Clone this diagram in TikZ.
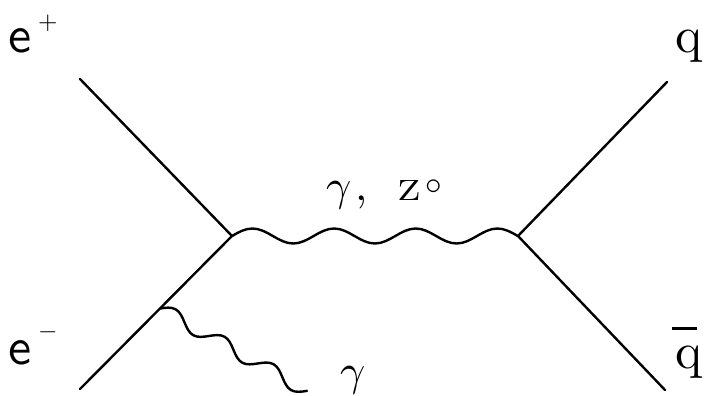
\documentclass[tikz,border=0pt]{standalone}
\usepackage{fix-cm}
\usetikzlibrary{decorations,calc}
\pgfdeclaredecoration{halfwave}{up}{
  \state{up}[width=\pgfdecorationsegmentlength, next state=down]{
    \pgfpathlineto{\pgfpointorigin}
    \pgfpathcurveto{\pgfpoint{0.16307\pgfdecorationsegmentlength}{0.51229\pgfdecorationsegmentamplitude}}{\pgfpoint{0.31904\pgfdecorationsegmentlength}{\pgfdecorationsegmentamplitude}}{\pgfpoint{0.5\pgfdecorationsegmentlength}{\pgfdecorationsegmentamplitude}}
    \pgfpathcurveto{\pgfpoint{0.68096\pgfdecorationsegmentlength}{\pgfdecorationsegmentamplitude}}{\pgfpoint{0.83693\pgfdecorationsegmentlength}{0.51229\pgfdecorationsegmentamplitude}}{\pgfpoint{\pgfdecorationsegmentlength}{0pt}}
  }
  \state{down}[width=\pgfdecorationsegmentlength, next state=up]{
    \pgfpathlineto{\pgfpointorigin}
    \pgfpathcurveto{\pgfpoint{0.16307\pgfdecorationsegmentlength}{-0.51229\pgfdecorationsegmentamplitude}}{\pgfpoint{0.31904\pgfdecorationsegmentlength}{-\pgfdecorationsegmentamplitude}}{\pgfpoint{0.5\pgfdecorationsegmentlength}{-\pgfdecorationsegmentamplitude}}
    \pgfpathcurveto{\pgfpoint{0.68096\pgfdecorationsegmentlength}{-\pgfdecorationsegmentamplitude}}{\pgfpoint{0.83693\pgfdecorationsegmentlength}{-0.51229\pgfdecorationsegmentamplitude}}{\pgfpoint{\pgfdecorationsegmentlength}{0pt}}
  }
  \state{final}{\pgfpathlineto{\pgfpointdecoratedpathlast}}
}
\tikzset{
  fermion/.style={line width=2.4pt, line cap=round, line join=miter},
  photon/.style={line width=2.4pt, line cap=round, decorate,
    decoration={halfwave, amplitude=7.5pt, segment length=#1}},
  lbl/.style={inner sep=0pt, outer sep=0pt, font=\fontsize{10}{12}\selectfont},
}
\begin{document}
\begin{tikzpicture}[x=1pt,y=-1pt]
\useasboundingbox (0,0) rectangle (705,396);
\coordinate (eplus) at (80,79);
\coordinate (eminus) at (80,389);
\coordinate (v1) at (232,236);
\coordinate (v2) at (518,236);
\coordinate (qend) at (667,82);
\coordinate (qbend) at (665,390);
\coordinate (vr) at ($(eminus)!0.526!(v1)$);
\coordinate (gend) at (307,391);

\draw[fermion] (eplus) -- (v1) -- (eminus);
\draw[fermion] (qend) -- (v2) -- (qbend);
\draw[photon=40.83pt] (v1) -- (v2);
\draw[photon=28.07pt, decoration={amplitude=7pt}] (vr) -- (gend);

\node[lbl, anchor=base west] (lep) at (9,53)
  {\scalebox{5.2}{\sffamily e}\hspace{6pt}\raisebox{24pt}{\scalebox{2.5}{$+$}}};
\node[lbl, anchor=base west] (lem) at (9,364)
  {\scalebox{5.2}{\sffamily e}\hspace{6pt}\raisebox{26pt}{\scalebox{2.5}{$-$}}};
\node[lbl, anchor=base] (lq) at (689,53) {\scalebox{5.1}{q}};
\node[lbl, anchor=base] (lqb) at (689,368)
  {\rlap{\kern-3.5pt\raisebox{38pt}{\rule{25pt}{2.6pt}}}\scalebox{5.1}{q}};
\node[lbl, anchor=base west] (lgz) at (326,200)
  {\scalebox{4.4}{$\gamma$\kern1pt,}\hspace{29.5pt}\scalebox{3.8}[2.93]{Z}\hspace{5pt}\raisebox{5.3pt}{\scalebox{3.3}{$\circ$}}};
\node[lbl, anchor=base west] (lg) at (340,385) {\scalebox{4.4}{$\gamma$}};
\end{tikzpicture}
\end{document}
